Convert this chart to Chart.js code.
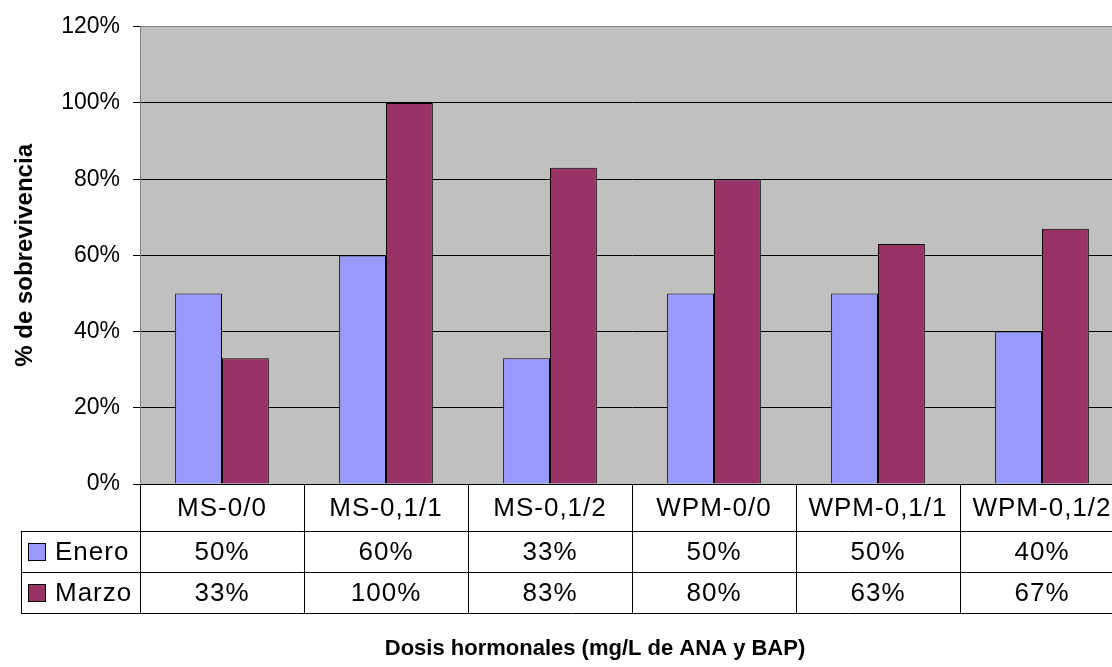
<!DOCTYPE html>
<html>
<head>
<meta charset="utf-8">
<title>% de sobrevivencia</title>
<script src="https://cdn.jsdelivr.net/npm/chart.js@4/dist/chart.umd.min.js"></script>
<style>
  html, body { margin: 0; padding: 0; background: #ffffff; overflow: hidden; }
  #wrap { width: 1124px; height: 667px; }
</style>
</head>
<body>
<div id="wrap"><canvas id="c" width="1124" height="667"></canvas></div>
<script>
// Treatments (hormone doses) and survival percentages per month
const categories = ['MS-0/0', 'MS-0,1/1', 'MS-0,1/2', 'WPM-0/0', 'WPM-0,1/1', 'WPM-0,1/2'];
const enero = [50, 60, 33, 50, 50, 40];
const marzo = [33, 100, 83, 80, 63, 67];
const seriesNames = ['Enero', 'Marzo'];
const seriesColors = ['#9999FF', '#993366'];
const yTicks = [0, 20, 40, 60, 80, 100, 120];

const FONT = '"Liberation Sans", Arial, Helvetica, sans-serif';

// Gray plot background
const plotBackground = {
  id: 'plotBackground',
  beforeDraw(chart) {
    const { ctx, chartArea: a } = chart;
    ctx.save();
    ctx.fillStyle = '#C0C0C0';
    ctx.fillRect(a.left, a.top, a.right - a.left, a.bottom - a.top);
    ctx.restore();
  }
};

// Data table under the plot, plus axis titles
const dataTable = {
  id: 'dataTable',
  afterDraw(chart) {
    const { ctx, chartArea: a } = chart;
    const xs = chart.scales.x;
    const half = (xs.getPixelForValue(1) - xs.getPixelForValue(0)) / 2;
    const rowTop = a.bottom;
    const rows = [rowTop, rowTop + 47, rowTop + 88, rowTop + 129];
    const legendLeft = 21;
    const rightEdge = xs.getPixelForValue(categories.length - 1) + half;

    ctx.save();
    ctx.strokeStyle = '#000';
    ctx.lineWidth = 1;
    ctx.beginPath();
    for (let r = 1; r < rows.length; r++) {
      ctx.moveTo(legendLeft, rows[r] + 0.5);
      ctx.lineTo(rightEdge, rows[r] + 0.5);
    }
    ctx.moveTo(legendLeft + 0.5, rows[1]);
    ctx.lineTo(legendLeft + 0.5, rows[3]);
    for (let i = 0; i <= categories.length; i++) {
      const x = Math.round(xs.getPixelForValue(i) - half) + 0.5;
      ctx.moveTo(x, rows[0]);
      ctx.lineTo(x, rows[3]);
    }
    ctx.stroke();

    ctx.fillStyle = '#000';
    ctx.font = '26px ' + FONT;
    ctx.letterSpacing = '1px';
    ctx.textAlign = 'center';
    ctx.textBaseline = 'middle';
    const seriesData = [enero, marzo];
    categories.forEach((c, i) => {
      const cx = xs.getPixelForValue(i);
      ctx.fillText(c, cx, (rows[0] + rows[1]) / 2 + 1);
      seriesData.forEach((arr, s) => {
        ctx.fillText(arr[i] + '%', cx, (rows[s + 1] + rows[s + 2]) / 2 + 1);
      });
    });

    // legend keys
    ctx.textAlign = 'left';
    seriesNames.forEach((name, s) => {
      const cy = (rows[s + 1] + rows[s + 2]) / 2;
      ctx.fillStyle = seriesColors[s];
      ctx.fillRect(28, Math.round(cy - 9), 18, 18);
      ctx.strokeStyle = '#000';
      ctx.strokeRect(28.5, Math.round(cy - 9) + 0.5, 17, 17);
      ctx.fillStyle = '#000';
      ctx.fillText(name, 55, cy + 1);
    });
    ctx.letterSpacing = '0px';

    // axis titles
    ctx.font = 'bold 22px ' + FONT;
    ctx.textAlign = 'center';
    ctx.textBaseline = 'alphabetic';
    ctx.fillText('Dosis hormonales (mg/L de ANA y BAP)', 595, 655);

    ctx.save();
    ctx.translate(32, (a.top + a.bottom) / 2);
    ctx.rotate(-Math.PI / 2);
    ctx.font = 'bold 24px ' + FONT;
    ctx.fillText('% de sobrevivencia', 0, 0);
    ctx.restore();
    ctx.restore();
  }
};

new Chart(document.getElementById('c'), {
  type: 'bar',
  data: {
    labels: categories,
    datasets: [
      { label: seriesNames[0], data: enero, backgroundColor: seriesColors[0], borderColor: '#000', borderWidth: 1 },
      { label: seriesNames[1], data: marzo, backgroundColor: seriesColors[1], borderColor: '#000', borderWidth: 1 }
    ]
  },
  options: {
    responsive: false,
    animation: false,
    devicePixelRatio: 1,
    layout: { padding: { top: 26, bottom: 183, left: 0, right: 0 } },
    datasets: { bar: { categoryPercentage: 2 / 3.5, barPercentage: 1 } },
    plugins: { legend: { display: false }, tooltip: { enabled: false }, title: { display: false } },
    scales: {
      x: { display: false },
      y: {
        min: 0,
        max: 120,
        afterBuildTicks(scale) { scale.ticks = yTicks.map(v => ({ value: v })); },
        afterFit(scale) { scale.width = 140; },
        ticks: {
          padding: 13,
          color: '#000',
          font: { family: FONT, size: 23 },
          callback: v => v + '%'
        },
        grid: {
          color: ctx => (ctx.tick && ctx.tick.value === 120 ? '#808080' : '#000'),
          tickColor: '#000',
          tickLength: 7,
          lineWidth: 1
        },
        border: { color: '#808080', width: 1 }
      }
    }
  },
  plugins: [plotBackground, dataTable]
});
</script>
</body>
</html>
